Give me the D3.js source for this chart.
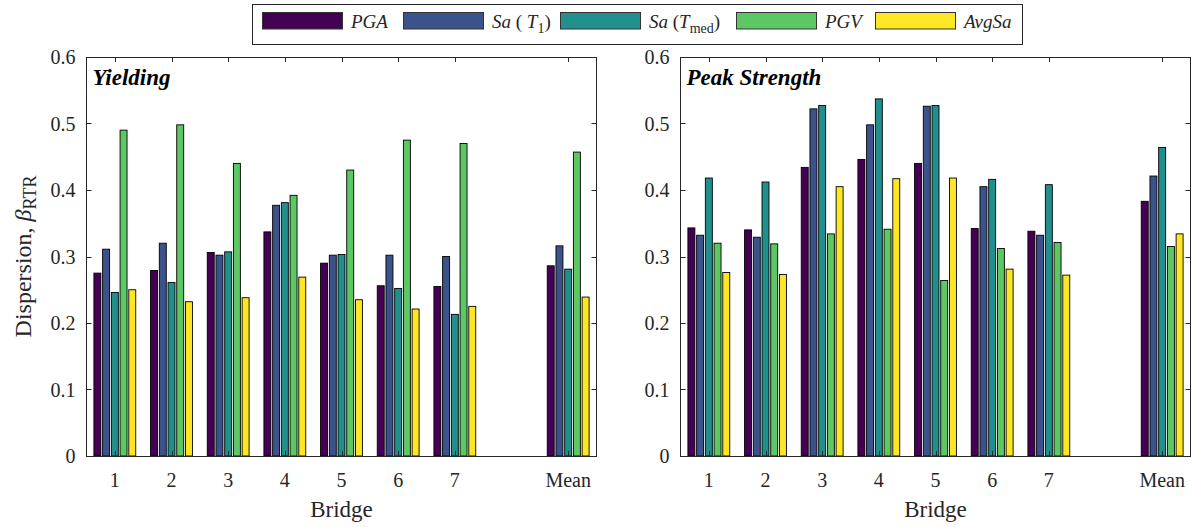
<!DOCTYPE html>
<html>
<head>
<meta charset="utf-8">
<script src="https://cdn.jsdelivr.net/npm/d3@7"></script>
<style>
  html, body { margin: 0; padding: 0; background: #fff; }
  svg { display: block; }
  text { font-family: "Liberation Serif", "Times New Roman", serif; fill: #262626; }
</style>
</head>
<body>
<svg id="chart" width="1192" height="527"></svg>
<script>
// ---- Data ----
const categories = ["1", "2", "3", "4", "5", "6", "7", "Mean"];
const categoryPositions = [1, 2, 3, 4, 5, 6, 7, 9];
const seriesNames = ["PGA", "SaT1", "SaTmed", "PGV", "AvgSa"];
const seriesColors = ["#440154", "#3b528b", "#21908d", "#5dc863", "#fde725"];

// Yielding
const yieldPGA    = [0.275, 0.279, 0.306, 0.337, 0.290, 0.256, 0.255, 0.286];
const yieldSaT1   = [0.311, 0.320, 0.302, 0.377, 0.302, 0.302, 0.300, 0.316];
const yieldSaTmed = [0.246, 0.261, 0.307, 0.381, 0.303, 0.252, 0.213, 0.281];
const yieldPGV    = [0.490, 0.498, 0.440, 0.392, 0.430, 0.475, 0.470, 0.457];
const yieldAvgSa  = [0.250, 0.232, 0.238, 0.269, 0.235, 0.221, 0.225, 0.239];

// Peak Strength
const peakPGA    = [0.343, 0.340, 0.434, 0.446, 0.440, 0.342, 0.338, 0.383];
const peakSaT1   = [0.332, 0.329, 0.522, 0.498, 0.526, 0.405, 0.332, 0.421];
const peakSaTmed = [0.418, 0.412, 0.527, 0.537, 0.527, 0.416, 0.408, 0.464];
const peakPGV    = [0.320, 0.319, 0.334, 0.341, 0.264, 0.312, 0.321, 0.315];
const peakAvgSa  = [0.276, 0.273, 0.405, 0.417, 0.418, 0.281, 0.272, 0.334];

const yTickValues = [0, 0.1, 0.2, 0.3, 0.4, 0.5, 0.6];
const yTickLabels = ["0", "0.1", "0.2", "0.3", "0.4", "0.5", "0.6"];

const panels = [
  { title: "Yielding", left: 86.5, right: 596.5,
    series: [yieldPGA, yieldSaT1, yieldSaTmed, yieldPGV, yieldAvgSa] },
  { title: "Peak Strength", left: 680.5, right: 1190.5,
    series: [peakPGA, peakSaT1, peakSaTmed, peakPGV, peakAvgSa] }
];

// ---- Drawing ----
const svg = d3.select("#chart");
const plotTop = 57, plotBottom = 456;
const axisColor = "#262626";
const tickLen = 5;
const nSeries = seriesNames.length;
const groupWidth = Math.min(0.8, nSeries / (nSeries + 1.5));
const slot = groupWidth / nSeries;

panels.forEach((p, pi) => {
  const x = d3.scaleLinear().domain([0.5, 9.5]).range([p.left, p.right]);
  const y = d3.scaleLinear().domain([0, 0.6]).range([plotBottom, plotTop]);
  const g = svg.append("g");

  // bars
  p.series.forEach((vals, si) => {
    const offset = (si - (nSeries - 1) / 2) * slot;
    const bw = (x(slot * 0.8) - x(0));
    g.selectAll(null)
      .data(vals.map((v, i) => ({ v, pos: categoryPositions[i] })))
      .enter().append("rect")
      .attr("x", d => x(d.pos + offset) - bw / 2)
      .attr("y", d => y(d.v))
      .attr("width", bw)
      .attr("height", d => y(0) - y(d.v))
      .attr("fill", seriesColors[si])
      .attr("stroke", "#000")
      .attr("stroke-width", 0.9);
  });

  // box
  g.append("rect")
    .attr("x", p.left).attr("y", plotTop + 0.5)
    .attr("width", p.right - p.left).attr("height", plotBottom - plotTop)
    .attr("fill", "none").attr("stroke", axisColor).attr("stroke-width", 1);

  // y ticks (inward, both sides)
  yTickValues.forEach((v, i) => {
    const yy = Math.round(y(v)) + 0.5;
    g.append("line").attr("x1", p.left).attr("x2", p.left + tickLen)
      .attr("y1", yy).attr("y2", yy).attr("stroke", axisColor);
    g.append("line").attr("x1", p.right).attr("x2", p.right - tickLen)
      .attr("y1", yy).attr("y2", yy).attr("stroke", axisColor);
    g.append("text")
      .attr("x", p.left - 11).attr("y", y(v) + 7)
      .attr("text-anchor", "end")
      .attr("font-size", 20)
      .text(yTickLabels[i]);
  });

  // x ticks (inward, both top and bottom)
  categoryPositions.forEach((c, i) => {
    const xx = Math.round(x(c)) + 0.5;
    g.append("line").attr("x1", xx).attr("x2", xx)
      .attr("y1", plotTop).attr("y2", plotTop + tickLen).attr("stroke", axisColor);
    g.append("line").attr("x1", xx).attr("x2", xx)
      .attr("y1", plotBottom).attr("y2", plotBottom - tickLen).attr("stroke", axisColor);
    g.append("text")
      .attr("x", x(c)).attr("y", 487)
      .attr("text-anchor", "middle")
      .attr("font-size", 20)
      .text(categories[i]);
  });

  // x label
  g.append("text")
    .attr("x", (p.left + p.right) / 2).attr("y", 517)
    .attr("text-anchor", "middle")
    .attr("font-size", 23)
    .text("Bridge");

  // title
  g.append("text")
    .attr("x", p.left + 6).attr("y", 85)
    .attr("font-size", 23)
    .attr("font-weight", "bold")
    .attr("font-style", "italic")
    .style("fill", "#000")
    .text(p.title);
});

// y label
const yl = svg.append("text")
  .attr("transform", "translate(31,256.5) rotate(-90)")
  .attr("text-anchor", "middle")
  .attr("font-size", 24);
yl.append("tspan").text("Dispersion, ");
yl.append("tspan").attr("font-style", "italic").text("\u03B2");
yl.append("tspan").attr("font-size", 18).attr("dy", 5).text("RTR");

// legend
const legend = svg.append("g");
legend.append("rect")
  .attr("x", 252.5).attr("y", 4.5).attr("width", 770).attr("height", 40)
  .attr("fill", "#fff").attr("stroke", axisColor).attr("stroke-width", 1);

const legendX = [262, 403, 560, 736, 875];
const legendLabels = [
  [{t: "PGA", i: true}],
  [{t: "Sa", i: true}, {t: " ( ", i: false}, {t: "T", i: true}, {t: "1", i: false, sub: true}, {t: ")", i: false, up: true}],
  [{t: "Sa", i: true}, {t: " (", i: false}, {t: "T", i: true}, {t: "med", i: false, sub: true}, {t: ")", i: false, up: true}],
  [{t: "PGV", i: true}],
  [{t: "AvgSa", i: true}]
];
seriesNames.forEach((s, si) => {
  legend.append("rect")
    .attr("x", legendX[si] + 0.5).attr("y", 12.5)
    .attr("width", 80).attr("height", 16.5)
    .attr("fill", seriesColors[si])
    .attr("stroke", "#333").attr("stroke-width", 1);
  const t = legend.append("text")
    .attr("x", legendX[si] + 89).attr("y", 28)
    .attr("font-size", 19);
  legendLabels[si].forEach(part => {
    const ts = t.append("tspan").text(part.t)
      .attr("font-style", part.i ? "italic" : "normal");
    if (part.sub) ts.attr("font-size", 14).attr("dy", 5);
    if (part.up) ts.attr("dy", -5);
  });
});
</script>
</body>
</html>
